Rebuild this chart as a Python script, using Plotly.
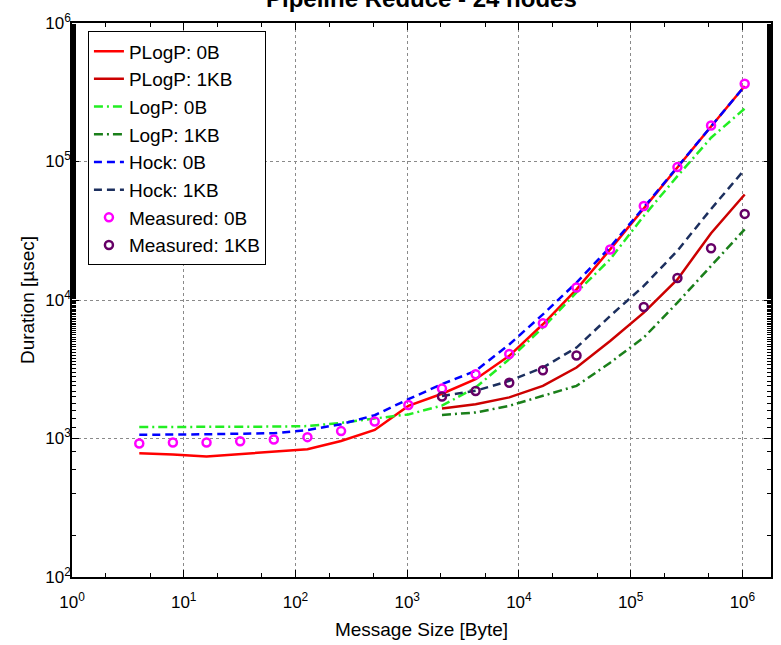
import plotly.graph_objects as go

# message sizes 2^2 .. 2^20 bytes
sizes = [4, 8, 16, 32, 64, 128, 256, 512, 1024, 2048, 4096, 8192, 16384,
         32768, 65536, 131072, 262144, 524288, 1048576]
sizes_1kb = sizes[9:]

# durations in usec
plogp_0b = [783, 767, 741, 771, 801, 836, 960, 1153, 1720, 2105, 2680, 3950,
            6680, 11930, 23180, 46100, 89900, 179000, 351000]
plogp_1kb = [1645, 1767, 1980, 2400, 3255, 5055, 8110, 14090, 30370, 57800]
logp_0b = [1209, 1209, 1209, 1214, 1219, 1229, 1297, 1395, 1492, 1727, 2332,
           3740, 6323, 11350, 19700, 40430, 78400, 148500, 240900]
logp_1kb = [1479, 1541, 1722, 2029, 2400, 3526, 5359, 9570, 17600, 32390]
hock_0b = [1063, 1063, 1073, 1083, 1092, 1151, 1268, 1473, 1921, 2467, 3079,
           4778, 7873, 13365, 24125, 46600, 90900, 179200, 351000]
hock_1kb = [2029, 2209, 2607, 3250, 4535, 7672, 12630, 22690, 45390, 87700]
meas_0b = [920, 935, 935, 955, 984, 1023, 1131, 1327, 1746, 2292, 2914, 4080,
           6790, 12315, 23160, 47660, 91100, 182000, 364400]
meas_1kb = [2010, 2205, 2526, 3107, 3972, None, 8895, 14420, 23640, 41850]

# tick labels
x_tickvals = [1, 10, 100, 1000, 10000, 100000, 1000000]
x_ticktext = ["10<sup>%d</sup>" % i for i in range(7)]
y_tickvals = [100, 1000, 10000, 100000, 1000000]
y_ticktext = ["10<sup>%d</sup>" % i for i in range(2, 7)]

FONT = "Liberation Sans, Arial, Helvetica, sans-serif"

fig = go.Figure()

# === model lines ===
lines = [
    ("PLogP: 0B", sizes, plogp_0b, "#ff0000", "solid"),
    ("PLogP: 1KB", sizes_1kb, plogp_1kb, "#cc0000", "solid"),
    ("LogP: 0B", sizes, logp_0b, "#22ee22", "9px,4px,2px,4px"),
    ("LogP: 1KB", sizes_1kb, logp_1kb, "#1a7f1a", "9px,4px,2px,4px"),
    ("Hock: 0B", sizes, hock_0b, "#0000ff", "8px,5px"),
    ("Hock: 1KB", sizes_1kb, hock_1kb, "#1c2f5e", "8px,5px"),
]
for name, xs, ys, col, dash in lines:
    fig.add_trace(go.Scatter(x=xs, y=ys, mode="lines", name=name,
                             line=dict(color=col, width=2.5, dash=dash)))

# === measured points ===
fig.add_trace(go.Scatter(x=sizes, y=meas_0b, mode="markers", name="Measured: 0B",
                         marker=dict(symbol="circle-open", size=8, color="#ff00ff",
                                     line=dict(width=2.5, color="#ff00ff"))))
fig.add_trace(go.Scatter(x=sizes_1kb, y=meas_1kb, mode="markers", name="Measured: 1KB",
                         marker=dict(symbol="circle-open", size=8, color="#660066",
                                     line=dict(width=2.5, color="#660066"))))

axis_common = dict(
    type="log",
    showline=True, linecolor="black", linewidth=1.5, mirror="ticks",
    ticks="inside", ticklen=7, tickcolor="black", tickwidth=1,
    showgrid=True, gridcolor="#8a8a8a", griddash="dot", gridwidth=1,
    zeroline=False, tickfont=dict(family=FONT, size=17, color="black"),
    minor=dict(ticks="inside", ticklen=4, tickcolor="black", showgrid=False),
)

fig.update_xaxes(range=[0, 6.256], tickvals=x_tickvals, ticktext=x_ticktext,
                 ticklabelstandoff=9,
                 title=dict(text="Message Size [Byte]",
                            font=dict(family=FONT, size=19, color="black"), standoff=12),
                 **axis_common)
fig.update_yaxes(range=[2, 6], tickvals=y_tickvals, ticktext=y_ticktext,
                 ticklabelstandoff=-4,
                 title=dict(text="Duration [µsec]",
                            font=dict(family=FONT, size=19, color="black"), standoff=6),
                 **axis_common)

# title sits partly above the page edge, as in the original
fig.add_annotation(text="<b>Pipeline Reduce - 24 nodes</b>", xref="paper", yref="paper",
                   x=0.5, y=1.017, xanchor="center", yanchor="bottom", showarrow=False,
                   font=dict(family=FONT, size=24, color="black"))

fig.update_layout(
    width=781, height=645,
    margin=dict(l=72, r=8, t=23, b=67),
    paper_bgcolor="white", plot_bgcolor="white",
    font=dict(family=FONT, color="black"),
    showlegend=True,
    legend=dict(x=0.0228, y=0.985, xanchor="left", yanchor="top",
                bgcolor="white", bordercolor="black", borderwidth=1,
                font=dict(family=FONT, size=19, color="black"),
                tracegroupgap=0, itemwidth=30),
)

fig.write_html("out.html", config={"displayModeBar": False},
               post_script="document.body.style.margin='0';")
